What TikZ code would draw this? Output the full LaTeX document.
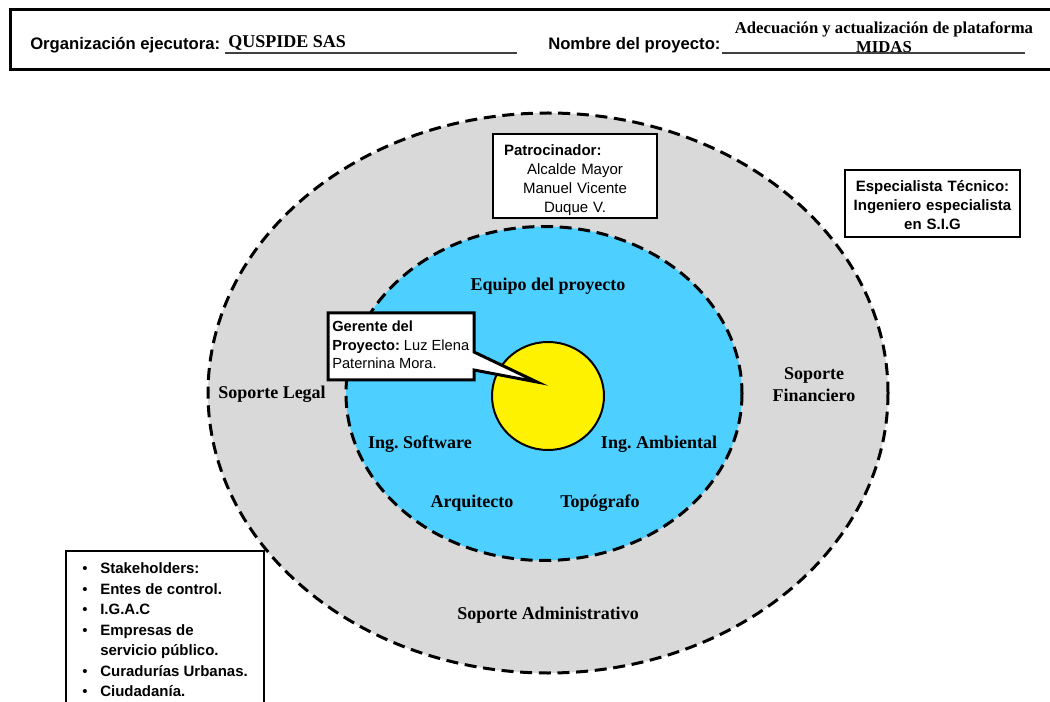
\documentclass[tikz,border=0pt]{standalone}
\usepackage{fontspec}
\setmainfont{Liberation Serif}
\setsansfont{Liberation Sans}
\usetikzlibrary{positioning}
\frenchspacing

\definecolor{ringgray}{RGB}{217,217,217}
\definecolor{teamblue}{RGB}{77,207,255}
\definecolor{ulinegray}{RGB}{64,64,64}

\tikzset{
  ring/.style={line width=2.25pt, dash pattern=on 9pt off 5pt},
  ringlabel/.style={font=\fontsize{13.5}{16.5}\selectfont\bfseries, inner sep=0pt, align=center},
  hdlabel/.style={font=\sffamily\bfseries\fontsize{12.5}{15}\selectfont, inner sep=0pt},
  hdvalue/.style={font=\bfseries\fontsize{12.5}{14.25}\selectfont, inner sep=0pt, align=center},
  uline/.style={draw=ulinegray, line width=1.1pt},
  infobox/.style={draw, line width=1pt, fill=white, inner ysep=0pt,
    font=\sffamily\fontsize{11.25}{14.25}\selectfont, align=center},
}

\begin{document}
\begin{tikzpicture}[x=0.75pt, y=-0.75pt]
    \useasboundingbox (0,0) rectangle (1050,702);

    % --- Header frame ---
    \draw[line width=2.25pt] (10,9.5) rectangle (1065,70);

    \node[hdlabel, anchor=base west] (org) at (30,50) {Organización ejecutora:};
    \node[hdvalue, anchor=base west, font=\bfseries\fontsize{13.5}{15}\selectfont] (orgval) at (228,48) {QUSPIDE SAS};
    \draw[uline] (225,53) -- (517,53);

    \node[hdlabel, anchor=base west] (proj) at (548,50) {Nombre del proyecto:};
    \node[hdvalue, anchor=north] (projval) at (884,21.5) {Adecuación y actualización de plataforma\\MIDAS};
    \draw[uline] (722,53) -- (1025,53);

    % --- Outer ring: support areas ---
    \draw[ring, fill=ringgray] (548,393) ellipse [x radius=340, y radius=280];

    % --- Inner ring: project team ---
    \draw[ring, fill=teamblue] (544,393.5) ellipse [x radius=198, y radius=167];

    % --- Core: project manager ---
    \draw[line width=1.5pt, fill=yellow] (548,396) ellipse [x radius=56, y radius=54];

    % --- Ring labels ---
    \node[ringlabel, anchor=base] (equipo) at (548,291) {Equipo del proyecto};
    \node[ringlabel, anchor=base] (legal) at (272,398) {Soporte Legal};
    \node[ringlabel, anchor=north] (financiero) at (814,367) {Soporte\\Financiero};
    \node[ringlabel, anchor=base] (software) at (420,448) {Ing. Software};
    \node[ringlabel, anchor=base] (ambiental) at (659,448) {Ing. Ambiental};
    \node[ringlabel, anchor=base] (arquitecto) at (472,507) {Arquitecto};
    \node[ringlabel, anchor=base] (topografo) at (600,507) {Topógrafo};
    \node[ringlabel, anchor=base] (admin) at (548,619) {Soporte Administrativo};

    % --- Callout for the manager ---
    \coordinate (gtip) at (537,382);
    \draw[line width=2.25pt, fill=white] (328,313) -- (474,313) -- (474,352) -- (gtip)
        -- (474,370) -- (474,380) -- (328,380) -- cycle;
    \node[anchor=north west, inner sep=0pt, align=left,
          font=\sffamily\fontsize{11}{13.7}\selectfont] (gerente) at (332,321)
        {\textbf{Gerente del}\\\textbf{Proyecto:} Luz Elena\\Paternina Mora.};

    % --- Sponsor ---
    \node[infobox, text width=106.5pt, inner xsep=8.25pt, minimum height=63pt] (patrocinador) at (575,176)
        {\rule{0pt}{14pt}\makebox[106.5pt][l]{\bfseries Patrocinador:}\\Alcalde Mayor\\Manuel Vicente\\Duque V.};

    % --- Technical specialist ---
    \node[infobox, text width=120pt, inner xsep=5.6pt, minimum height=50.25pt, font=\sffamily\bfseries\fontsize{11.25}{14.25}\selectfont] (especialista) at (932.5,203.5)
        {\rule{0pt}{10pt}Especialista Técnico:\\Ingeniero especialista\\en S.I.G};

    % --- Stakeholders list ---
    \draw[line width=1pt, fill=white] (66,551) rectangle (264,725);
    \node[anchor=north west, inner sep=0pt, font=\sffamily\fontsize{11.25}{15.4}\selectfont] (stake) at (82,559)
        {\begin{tabular}{@{}l@{}l@{}}
            \makebox[13.5pt][l]{\textbullet} & \textbf{Stakeholders:}\\
            \makebox[13.5pt][l]{\textbullet} & \textbf{Entes de control.}\\
            \makebox[13.5pt][l]{\textbullet} & \textbf{I.G.A.C}\\
            \makebox[13.5pt][l]{\textbullet} & \textbf{Empresas de}\\
                                             & \textbf{servicio público.}\\
            \makebox[13.5pt][l]{\textbullet} & \textbf{Curadurías Urbanas.}\\
            \makebox[13.5pt][l]{\textbullet} & \textbf{Ciudadanía.}\\
         \end{tabular}};

\end{tikzpicture}
\end{document}
